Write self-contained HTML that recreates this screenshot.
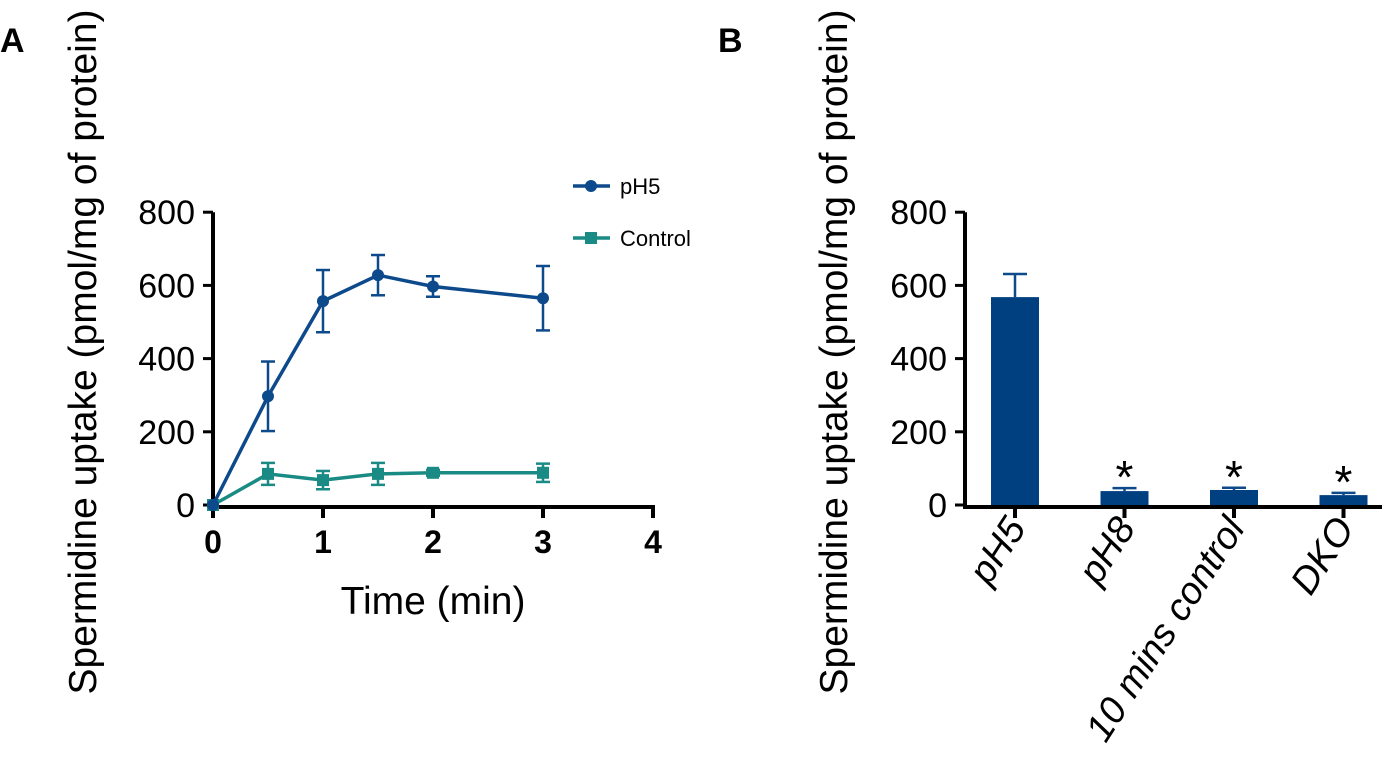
<!DOCTYPE html>
<html><head><meta charset="utf-8"><style>
body{margin:0;background:#fff;}
text{font-family:"Liberation Sans",Arial,sans-serif;}
</style></head><body>
<svg id="chart" width="1400" height="757" xmlns="http://www.w3.org/2000/svg">
<text x="0" y="52" font-size="34" font-weight="bold">A</text>
<text x="718" y="52" font-size="34" font-weight="bold">B</text>
<g id="pa"></g><g id="pb"></g>
</svg>
<script>
const times=[0,0.5,1,1.5,2,3];
const ph5=[0,297,557,628,597,565];
const ph5Err=[0,95,85,55,28,88];
const ctrl=[0,85,68,85,88,88];
const ctrlErr=[0,30,25,30,8,25];
const xTicks=[0,1,2,3,4];
const yTicks=[0,200,400,600,800];
const cats=["pH5","pH8","10 mins control","DKO"];
const barVals=[568,38,41,27];
const barErr=[63,8,6,6];
const NS="http://www.w3.org/2000/svg";
function mk(p,t,a,txt){const e=document.createElementNS(NS,t);for(const k in a)e.setAttribute(k,a[k]);if(txt!=null)e.textContent=txt;p.appendChild(e);return e;}
const ya=v=>505-v*0.366;
const xa=v=>213+v*110;
const A=document.getElementById('pa');
let e=mk(A,'line',{x1:213,y1:ya(800),x2:213,y2:507,stroke:'#000','stroke-width':4});

e=mk(A,'line',{x1:211,y1:507,x2:xa(4)+2,y2:507,stroke:'#000','stroke-width':4});

yTicks.forEach(v=>{mk(A,'line',{x1:203,y1:ya(v),x2:213,y2:ya(v),stroke:'#000','stroke-width':3});
e=mk(A,'text',{x:195,y:ya(v)+12,'font-size':34,'text-anchor':'end'},v);
});
xTicks.forEach(v=>{mk(A,'line',{x1:xa(v),y1:507,x2:xa(v),y2:518,stroke:'#000','stroke-width':4});
e=mk(A,'text',{x:xa(v),y:553,'font-size':32,'font-weight':'bold','text-anchor':'middle'},v);
});
e=mk(A,'text',{x:433,y:614,'font-size':39,'text-anchor':'middle'},'Time (min)');

e=mk(A,'text',{x:0,y:0,'font-size':39,'text-anchor':'middle',transform:'translate(96,352) rotate(-90)'},'Spermidine uptake (pmol/mg of protein)');

function series(vals,errs,col,sq,name){
 const g=mk(A,'g',{});
 mk(g,'polyline',{points:vals.map((v,i)=>xa(times[i])+','+ya(v)).join(' '),fill:'none',stroke:col,'stroke-width':3.5});
 vals.forEach((v,i)=>{const x=xa(times[i]);if(errs[i]>0){
  mk(g,'line',{x1:x,y1:ya(v+errs[i]),x2:x,y2:ya(v-errs[i]),stroke:col,'stroke-width':2.5});
  mk(g,'line',{x1:x-7,y1:ya(v+errs[i]),x2:x+7,y2:ya(v+errs[i]),stroke:col,'stroke-width':2.5});
  mk(g,'line',{x1:x-7,y1:ya(v-errs[i]),x2:x+7,y2:ya(v-errs[i]),stroke:col,'stroke-width':2.5});}
  const m=sq?mk(g,'rect',{x:x-6,y:ya(v)-6,width:12,height:12,fill:col}):mk(g,'circle',{cx:x,cy:ya(v),r:6,fill:col});
  });
}
series(ctrl,ctrlErr,'#1a8a84',true,'series-control');
series(ph5,ph5Err,'#0d4a8c',false,'series-ph5');
e=mk(A,'g',{});
mk(e,'line',{x1:573,y1:186,x2:610,y2:186,stroke:'#0d4a8c','stroke-width':3.5});mk(e,'circle',{cx:591,cy:186,r:6,fill:'#0d4a8c'});
mk(e,'text',{x:620,y:194,'font-size':22},'pH5');
e=mk(A,'g',{});
mk(e,'line',{x1:573,y1:238,x2:610,y2:238,stroke:'#1a8a84','stroke-width':3.5});mk(e,'rect',{x:585,y:232,width:12,height:12,fill:'#1a8a84'});
mk(e,'text',{x:620,y:246,'font-size':22},'Control');
const B=document.getElementById('pb');
const xb=i=>1015+i*109.5;
e=mk(B,'line',{x1:965,y1:ya(800),x2:965,y2:507,stroke:'#000','stroke-width':4});

e=mk(B,'line',{x1:963,y1:507,x2:1382,y2:507,stroke:'#000','stroke-width':4});

yTicks.forEach(v=>{mk(B,'line',{x1:955,y1:ya(v),x2:965,y2:ya(v),stroke:'#000','stroke-width':3});
e=mk(B,'text',{x:947,y:ya(v)+12,'font-size':34,'text-anchor':'end'},v);
});
e=mk(B,'text',{x:0,y:0,'font-size':39,'text-anchor':'middle',transform:'translate(847,352) rotate(-90)'},'Spermidine uptake (pmol/mg of protein)');

cats.forEach((c,i)=>{const x=xb(i),v=barVals[i],t=ya(v+barErr[i]);
 mk(B,'line',{x1:x,y1:ya(v),x2:x,y2:t,stroke:'#0d4a8c','stroke-width':2.5});
 mk(B,'line',{x1:x-12,y1:t,x2:x+12,y2:t,stroke:'#0d4a8c','stroke-width':2.5});
 e=mk(B,'rect',{x:x-24,y:ya(v),width:48,height:505-ya(v),fill:'#003f80'});
 
 mk(B,'line',{x1:x,y1:507,x2:x,y2:518,stroke:'#000','stroke-width':4});
 if(i>0){e=mk(B,'text',{x:x,y:t+5,'font-size':46,'text-anchor':'middle'},'*');
  }
 e=mk(B,'text',{x:0,y:0,'font-size':38,'font-style':'italic','text-anchor':'end',transform:`translate(${x+12},528) rotate(-57)`},c);
 
});
</script>
</body></html>
